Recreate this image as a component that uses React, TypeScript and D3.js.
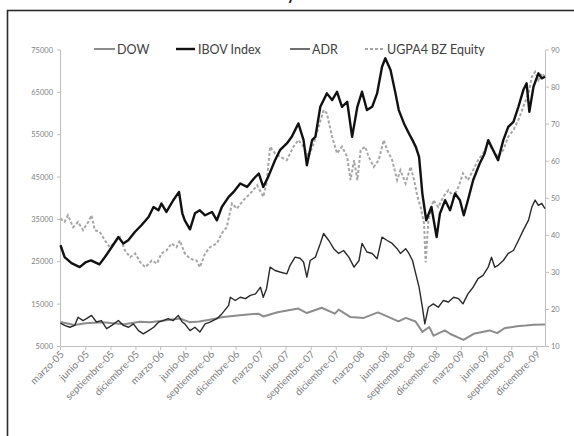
import React from "react";
import * as d3 from "d3";

const W = 574;
const H = 436;

const leftTicks = [5000, 15000, 25000, 35000, 45000, 55000, 65000, 75000];
const rightTicks = [10, 20, 30, 40, 50, 60, 70, 80, 90];

const tickDates = [
  "2005-03-01", "2005-06-01", "2005-09-01", "2005-12-01",
  "2006-03-01", "2006-06-01", "2006-09-01", "2006-12-01",
  "2007-03-01", "2007-06-01", "2007-09-01", "2007-12-01",
  "2008-03-01", "2008-06-01", "2008-09-01", "2008-12-01",
  "2009-03-01", "2009-06-01", "2009-09-01", "2009-12-01",
];
const tickLabels = [
  "marzo-05", "junio-05", "septiembre-05", "diciembre-05",
  "marzo-06", "junio-06", "septiembre-06", "diciembre-06",
  "marzo-07", "junio-07", "septiembre-07", "diciembre-07",
  "marzo-08", "junio-08", "septiembre-08", "diciembre-08",
  "marzo-09", "junio-09", "septiembre-09", "diciembre-09",
];

// DOW (left axis)
const dow: [string, number][] = [
  ["2005-03-01", 10800], ["2005-04-20", 10100], ["2005-06-01", 10500], ["2005-08-01", 10700],
  ["2005-10-20", 10250], ["2005-12-15", 10850], ["2006-01-20", 10700], ["2006-03-01", 11000],
  ["2006-05-10", 11600], ["2006-06-14", 10750], ["2006-07-20", 10900], ["2006-09-01", 11400],
  ["2006-10-15", 11950], ["2006-12-15", 12400], ["2007-02-20", 12750], ["2007-03-10", 12100],
  ["2007-05-01", 13100], ["2007-07-16", 13950], ["2007-08-16", 12900], ["2007-10-09", 14150],
  ["2007-11-26", 12750], ["2007-12-10", 13700], ["2008-01-22", 11950], ["2008-03-10", 11750],
  ["2008-05-01", 13050], ["2008-07-15", 10950], ["2008-08-11", 11750], ["2008-09-15", 10900],
  ["2008-10-10", 8450], ["2008-11-04", 9600], ["2008-11-20", 7550], ["2008-12-31", 8800],
  ["2009-01-20", 7950], ["2009-03-09", 6550], ["2009-04-15", 8000], ["2009-06-12", 8800],
  ["2009-07-10", 8150], ["2009-08-05", 9300], ["2009-09-20", 9800], ["2009-10-21", 9950],
  ["2009-11-20", 10150], ["2009-12-31", 10200],
];

// IBOV Index (left axis)
const ibov: [string, number][] = [
  ["2005-03-01", 28900], ["2005-03-16", 26120], ["2005-04-10", 24700], ["2005-05-10", 23750],
  ["2005-06-02", 24940], ["2005-06-20", 25340], ["2005-07-21", 24390], ["2005-08-10", 26120],
  ["2005-09-04", 28480], ["2005-09-28", 30850], ["2005-10-16", 29290], ["2005-11-03", 30070],
  ["2005-11-27", 32030], ["2005-12-21", 33620], ["2006-01-16", 35580], ["2006-02-03", 37940],
  ["2006-02-21", 37160], ["2006-03-04", 38750], ["2006-03-22", 36760], ["2006-04-16", 39530],
  ["2006-05-07", 41490], ["2006-05-19", 36450], ["2006-05-28", 34800], ["2006-06-16", 32670],
  ["2006-07-04", 36450], ["2006-07-22", 37160], ["2006-08-10", 35980], ["2006-09-04", 36760],
  ["2006-09-22", 34800], ["2006-10-10", 37940], ["2006-11-04", 40310], ["2006-11-22", 41490],
  ["2006-12-16", 43480], ["2007-01-10", 42670], ["2007-02-04", 44660], ["2007-02-22", 45840],
  ["2007-03-10", 42670], ["2007-03-28", 45040], ["2007-04-22", 48990], ["2007-05-10", 51350],
  ["2007-06-04", 52940], ["2007-06-22", 54500], ["2007-07-04", 56080], ["2007-07-16", 57670],
  ["2007-08-04", 53720], ["2007-08-16", 47800], ["2007-09-04", 53720], ["2007-09-16", 54500],
  ["2007-10-04", 61590], ["2007-10-28", 64760], ["2007-11-16", 63180], ["2007-12-04", 65140],
  ["2007-12-22", 61590], ["2008-01-10", 62780], ["2008-01-28", 54500], ["2008-02-16", 61590],
  ["2008-03-04", 65140], ["2008-03-22", 60810], ["2008-04-10", 61590], ["2008-04-28", 64760],
  ["2008-05-16", 71050], ["2008-05-28", 73040], ["2008-06-16", 70270], ["2008-07-04", 64760],
  ["2008-07-16", 60810], ["2008-08-04", 57670], ["2008-08-22", 55300], ["2008-09-04", 53720],
  ["2008-09-16", 52130], ["2008-09-28", 49770], ["2008-10-10", 41110], ["2008-10-24", 34800],
  ["2008-11-12", 37940], ["2008-12-01", 30850], ["2008-12-13", 36380], ["2009-01-01", 39530],
  ["2009-01-19", 37160], ["2009-02-06", 41110], ["2009-02-24", 39530], ["2009-03-10", 35980],
  ["2009-03-25", 39530], ["2009-04-13", 44260], ["2009-05-07", 48210], ["2009-05-25", 50570],
  ["2009-06-07", 53720], ["2009-06-25", 51350], ["2009-07-13", 48990], ["2009-08-01", 53720],
  ["2009-08-19", 56860], ["2009-09-07", 58050], ["2009-09-25", 61590], ["2009-10-13", 65540],
  ["2009-10-25", 67130], ["2009-11-04", 60410], ["2009-11-19", 66320], ["2009-12-07", 69490],
  ["2009-12-19", 68310], ["2009-12-31", 68690],
];

// ADR (right axis)
const adr: [string, number][] = [
  ["2005-03-01", 16.3], ["2005-03-16", 15.7], ["2005-04-04", 15.2], ["2005-04-22", 15.7],
  ["2005-05-04", 17.9], ["2005-05-22", 17.0], ["2005-06-04", 17.5], ["2005-06-22", 18.4],
  ["2005-07-10", 16.6], ["2005-07-28", 17.0], ["2005-08-16", 14.8], ["2005-09-04", 15.7],
  ["2005-09-28", 17.0], ["2005-10-16", 15.7], ["2005-11-04", 15.2], ["2005-11-22", 16.1],
  ["2005-12-10", 14.3], ["2005-12-28", 13.4], ["2006-01-16", 14.3], ["2006-02-04", 15.2],
  ["2006-02-22", 16.6], ["2006-03-10", 17.0], ["2006-03-28", 17.5], ["2006-04-16", 17.0],
  ["2006-05-04", 18.4], ["2006-05-19", 16.6], ["2006-05-28", 16.1], ["2006-06-16", 14.3],
  ["2006-07-04", 15.2], ["2006-07-22", 13.9], ["2006-08-10", 16.1], ["2006-08-28", 16.6],
  ["2006-09-22", 17.5], ["2006-10-10", 18.8], ["2006-11-04", 21.1], ["2006-11-10", 23.3],
  ["2006-11-28", 22.4], ["2006-12-16", 23.3], ["2007-01-04", 22.9], ["2007-01-22", 23.8],
  ["2007-02-10", 24.2], ["2007-02-28", 26.0], ["2007-03-10", 23.3], ["2007-03-22", 25.6],
  ["2007-04-04", 31.4], ["2007-04-22", 30.5], ["2007-05-10", 30.1], ["2007-06-04", 29.6],
  ["2007-06-16", 31.9], ["2007-07-04", 34.1], ["2007-07-22", 33.8], ["2007-08-04", 32.8],
  ["2007-08-16", 28.7], ["2007-08-28", 33.2], ["2007-09-16", 34.1], ["2007-10-04", 37.8],
  ["2007-10-16", 40.5], ["2007-11-04", 38.6], ["2007-11-22", 36.4], ["2007-12-10", 35.1],
  ["2007-12-28", 35.9], ["2008-01-16", 34.1], ["2008-02-04", 31.4], ["2008-02-22", 33.2],
  ["2008-03-04", 37.8], ["2008-03-22", 35.5], ["2008-04-10", 35.1], ["2008-04-28", 33.7],
  ["2008-05-16", 39.5], ["2008-06-04", 38.6], ["2008-06-22", 37.8], ["2008-07-10", 36.4],
  ["2008-07-22", 35.1], ["2008-08-10", 36.4], ["2008-08-22", 35.1], ["2008-09-04", 33.2],
  ["2008-09-16", 29.6], ["2008-09-28", 26.0], ["2008-10-10", 20.6], ["2008-10-19", 16.1],
  ["2008-11-01", 20.6], ["2008-11-19", 21.5], ["2008-12-07", 20.6], ["2008-12-25", 22.4],
  ["2009-01-13", 22.0], ["2009-02-01", 23.3], ["2009-02-19", 22.9], ["2009-03-07", 21.5],
  ["2009-03-25", 24.2], ["2009-04-13", 26.0], ["2009-05-01", 28.3], ["2009-05-19", 29.2],
  ["2009-06-07", 31.4], ["2009-06-19", 34.1], ["2009-07-01", 31.4], ["2009-07-13", 31.9],
  ["2009-08-01", 33.2], ["2009-08-19", 35.1], ["2009-09-07", 35.9], ["2009-09-25", 38.6],
  ["2009-10-13", 41.4], ["2009-11-01", 44.1], ["2009-11-13", 47.6], ["2009-11-25", 49.5],
  ["2009-12-07", 48.1], ["2009-12-19", 48.6], ["2009-12-31", 47.2],
];

// UGPA4 BZ Equity (right axis)
const ugpa4: [string, number][] = [
  ["2005-03-01", 44.5], ["2005-03-16", 43.6], ["2005-03-28", 45.4], ["2005-04-16", 42.2],
  ["2005-05-04", 43.6], ["2005-05-22", 41.4], ["2005-06-10", 43.6], ["2005-06-22", 45.4],
  ["2005-07-04", 41.4], ["2005-07-22", 40.9], ["2005-08-10", 38.6], ["2005-08-28", 36.8],
  ["2005-09-16", 38.2], ["2005-10-04", 39.5], ["2005-10-22", 35.9], ["2005-11-10", 34.1],
  ["2005-11-28", 35.1], ["2005-12-16", 32.8], ["2006-01-04", 31.4], ["2006-01-28", 33.2],
  ["2006-02-16", 32.4], ["2006-03-04", 35.1], ["2006-03-22", 35.9], ["2006-04-10", 37.8],
  ["2006-04-28", 36.8], ["2006-05-10", 38.6], ["2006-05-28", 35.1], ["2006-06-16", 33.7],
  ["2006-07-10", 33.2], ["2006-07-22", 31.4], ["2006-08-10", 35.1], ["2006-08-28", 36.8],
  ["2006-09-22", 37.8], ["2006-10-10", 40.5], ["2006-10-28", 42.2], ["2006-11-16", 48.6],
  ["2006-12-04", 47.2], ["2006-12-28", 49.5], ["2007-01-22", 51.3], ["2007-02-16", 53.5],
  ["2007-03-10", 50.4], ["2007-03-22", 54.0], ["2007-04-04", 63.9], ["2007-04-22", 62.1],
  ["2007-05-10", 61.2], ["2007-06-04", 60.3], ["2007-06-28", 63.9], ["2007-07-16", 65.7],
  ["2007-08-04", 63.9], ["2007-08-10", 63.0], ["2007-08-22", 61.2], ["2007-09-10", 64.8],
  ["2007-09-28", 69.3], ["2007-10-16", 73.8], ["2007-10-28", 72.9], ["2007-11-16", 66.6],
  ["2007-12-04", 62.1], ["2007-12-22", 63.9], ["2008-01-10", 61.2], ["2008-01-22", 54.9],
  ["2008-02-04", 60.3], ["2008-02-16", 54.9], ["2008-02-28", 63.0], ["2008-03-16", 63.9],
  ["2008-03-28", 61.2], ["2008-04-16", 58.5], ["2008-05-04", 60.3], ["2008-05-22", 65.7],
  ["2008-06-04", 63.0], ["2008-06-22", 60.3], ["2008-07-10", 54.9], ["2008-07-22", 57.6],
  ["2008-08-10", 54.0], ["2008-08-28", 58.5], ["2008-09-10", 54.9], ["2008-09-22", 50.4],
  ["2008-10-04", 47.6], ["2008-10-16", 43.2], ["2008-10-22", 32.7], ["2008-11-01", 44.1],
  ["2008-11-19", 49.5], ["2008-12-07", 47.6], ["2008-12-25", 50.4], ["2009-01-13", 52.2],
  ["2009-02-01", 50.4], ["2009-02-19", 53.1], ["2009-03-07", 56.7], ["2009-03-25", 54.9],
  ["2009-04-13", 57.6], ["2009-05-01", 60.3], ["2009-05-19", 62.1], ["2009-06-07", 64.8],
  ["2009-06-25", 63.0], ["2009-07-13", 61.2], ["2009-08-01", 63.0], ["2009-08-19", 66.6],
  ["2009-09-07", 68.4], ["2009-09-25", 71.1], ["2009-10-13", 74.7], ["2009-11-01", 78.3],
  ["2009-11-13", 82.8], ["2009-11-25", 84.1], ["2009-12-07", 81.9], ["2009-12-19", 83.7],
  ["2009-12-31", 82.8],
];

const FONT = "Lato, 'Open Sans', 'DejaVu Sans', sans-serif";

export default function App() {
  const parse = d3.timeParse("%Y-%m-%d");
  const x = d3
    .scaleTime()
    .domain([parse("2005-03-01") as Date, parse("2009-12-31") as Date])
    .range([60.5, 545]);
  const yL = d3.scaleLinear().domain([5000, 75000]).range([346.5, 50]);
  const yR = d3.scaleLinear().domain([10, 90]).range([346.5, 50]);

  const lineL = d3
    .line<[string, number]>()
    .x((d) => x(parse(d[0]) as Date))
    .y((d) => yL(d[1]));
  const lineR = d3
    .line<[string, number]>()
    .x((d) => x(parse(d[0]) as Date))
    .y((d) => yR(d[1]));

  const axisColor = "#bfbfbf";
  const labelColor = "#808080";

  const legend = [
    { x1: 94, x2: 115, tx: 117, label: "DOW", color: "#8c8c8c", w: 2, dash: "" },
    { x1: 176, x2: 195, tx: 198, label: "IBOV Index", color: "#111", w: 2.4, dash: "" },
    { x1: 290, x2: 310, tx: 312, label: "ADR", color: "#333", w: 1.4, dash: "" },
    { x1: 365, x2: 384, tx: 387, label: "UGPA4 BZ Equity", color: "#a6a6a6", w: 2, dash: "3,2" },
  ];

  return (
    <svg
      width={W}
      height={H}
      style={{ position: "absolute", left: 0, top: 0, background: "#fff" }}
      fontFamily={FONT}
    >
      <rect x={0} y={0} width={W} height={H} fill="#fff" />
      <text x={291} y={0} fontSize={15} fontWeight="bold" fill="#111" textAnchor="middle">y</text>
      <rect x={7.5} y={10.5} width={600} height={460} fill="none" stroke="#2b2b2b" strokeWidth={1.6} />

      {/* axes */}
      <line x1={60.5} x2={60.5} y1={50} y2={346.5} stroke={axisColor} />
      <line x1={545.5} x2={545.5} y1={50} y2={346.5} stroke={axisColor} />
      <line x1={60.5} x2={545.5} y1={346.5} y2={346.5} stroke={axisColor} />

      {leftTicks.map((t) => (
        <g key={"l" + t}>
          <line x1={57} x2={60.5} y1={yL(t)} y2={yL(t)} stroke={axisColor} />
          <text x={53} y={yL(t) + 2.5} fontSize={7.5} fill={labelColor} textAnchor="end">
            {t}
          </text>
        </g>
      ))}
      {rightTicks.map((t) => (
        <g key={"r" + t}>
          <line x1={545.5} x2={549} y1={yR(t)} y2={yR(t)} stroke={axisColor} />
          <text x={551} y={yR(t) + 2.5} fontSize={7.5} fill={labelColor} textAnchor="start">
            {t}
          </text>
        </g>
      ))}
      {tickDates.map((d, i) => {
        const px = x(parse(d) as Date);
        return (
          <g key={d}>
            <line x1={px} x2={px} y1={346.5} y2={350} stroke={axisColor} />
            <text
              transform={`translate(${px + 4},${355}) rotate(-45)`}
              fontSize={10}
              fill={labelColor}
              textAnchor="end"
            >
              {tickLabels[i]}
            </text>
          </g>
        );
      })}

      {/* series */}
      <path d={lineL(dow) || ""} fill="none" stroke="#8c8c8c" strokeWidth={2} strokeLinejoin="round" />
      <path d={lineR(ugpa4) || ""} fill="none" stroke="#a6a6a6" strokeWidth={2} strokeDasharray="3,2" />
      <path d={lineR(adr) || ""} fill="none" stroke="#2a2a2a" strokeWidth={1.4} strokeLinejoin="round" />
      <path d={lineL(ibov) || ""} fill="none" stroke="#111" strokeWidth={2.4} strokeLinejoin="round" />

      {/* legend */}
      {legend.map((l) => (
        <g key={l.label}>
          <line
            x1={l.x1}
            x2={l.x2}
            y1={49}
            y2={49}
            stroke={l.color}
            strokeWidth={l.w}
            strokeDasharray={l.dash || undefined}
          />
          <text x={l.tx} y={53.5} fontSize={12.5} fill="#404040">
            {l.label}
          </text>
        </g>
      ))}
    </svg>
  );
}
